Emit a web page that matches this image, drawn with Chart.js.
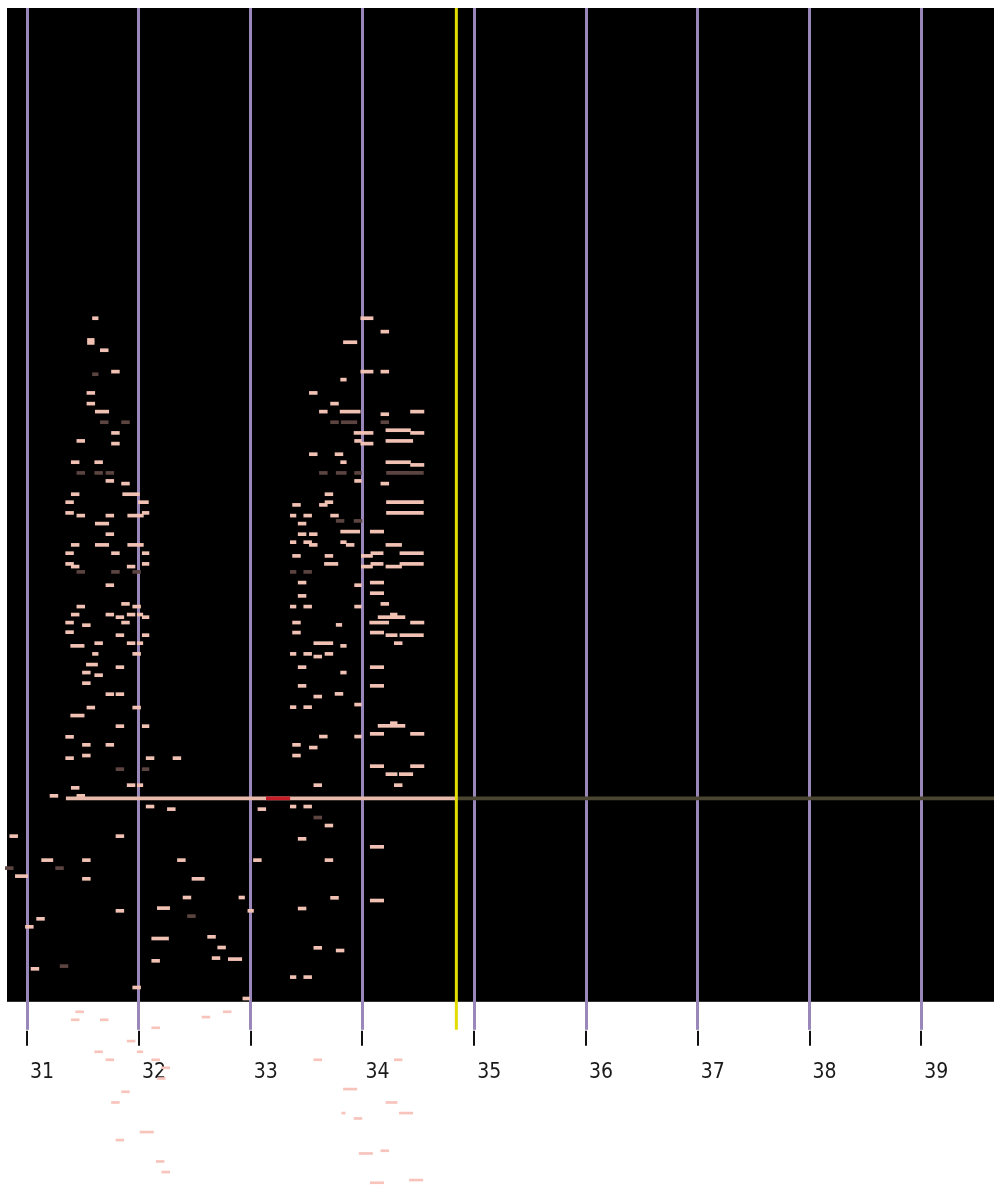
<!DOCTYPE html>
<html>
<head>
<meta charset="utf-8">
<script src="https://cdn.jsdelivr.net/npm/chart.js@4/dist/chart.umd.min.js"></script>
<style>
  html, body { margin: 0; padding: 0; background: #fff; }
  #wrap { width: 994px; height: 1185px; position: relative; }
</style>
</head>
<body>
<div id="wrap"><canvas id="roll"></canvas></div>
<script>
// axis range and tick labels
const xMin = 30.82;
const xMax = 39.65;
const yMin = 0;
const yMax = 99.4;
const tickValues = [31, 32, 33, 34, 35, 36, 37, 38, 39];

// playhead + baseline track
const cursorX = 34.84;
const cursorFoot = -2.8;
const baseY = 20.35;
const baseStart = 31.35;
const markStart = 33.14;
const markEnd = 33.35;

// notes: [center x, y, length]
const upperLeft = [
  [31.61,68.37,0.05],[31.57,66.2,0.06],[31.57,65.9,0.06],[31.69,65.17,0.07],
  [31.79,63.03,0.07],[31.57,60.9,0.07],[31.57,59.83,0.07],[31.67,59.03,0.12],
  [31.79,56.9,0.07],[31.48,56.1,0.07],[31.79,55.83,0.07],
  [31.43,53.97,0.07],[31.64,53.97,0.07],[31.74,52.1,0.07],[31.88,51.83,0.07],
  [31.43,50.77,0.07],[31.93,50.77,0.15],[31.38,49.97,0.07],[32.04,49.97,0.09],
  [31.38,48.9,0.07],[32.06,48.9,0.06],[31.48,48.63,0.07],[31.74,48.63,0.07],[31.97,48.63,0.14],
  [31.67,47.83,0.12],[31.74,46.77,0.07],[31.43,45.7,0.07],[31.67,45.7,0.12],[31.97,45.7,0.14],
  [31.38,44.87,0.07],[31.79,44.87,0.07],[32.06,44.87,0.06],
  [31.38,43.8,0.07],[31.43,43.53,0.07],[31.93,43.53,0.07],[32.06,43.8,0.06],
  [31.74,41.67,0.07],[31.88,39.8,0.07],[31.48,39.53,0.07],[31.98,39.53,0.07],
  [31.43,38.73,0.07],[31.74,38.73,0.07],[31.93,38.73,0.07],[32.01,38.73,0.05],
  [31.83,38.47,0.07],[32.06,38.47,0.06],[31.38,37.93,0.07],[31.88,37.93,0.07],
  [31.53,37.67,0.07],[31.38,36.97,0.07],[31.83,36.67,0.07],[32.06,36.67,0.06],
  [31.64,35.87,0.07],[31.93,35.87,0.07],[32.01,35.87,0.05],[31.45,35.6,0.12],
  [31.61,34.8,0.05],[31.98,34.8,0.07],[31.58,33.73,0.10],[31.83,33.47,0.07],
  [31.53,32.93,0.07],[31.64,32.67,0.07],[31.53,31.87,0.07],
  [31.74,30.77,0.07],[31.83,30.77,0.07],[31.57,29.43,0.07],[31.98,29.43,0.07],
  [31.45,28.63,0.12],[31.83,27.57,0.07],[32.06,27.57,0.06],[31.38,26.5,0.07],
  [31.53,25.7,0.07],[31.74,25.7,0.07],[31.53,24.63,0.07],
  [31.38,24.37,0.07],[32.10,24.37,0.07],[32.34,24.37,0.07],
  [31.93,21.67,0.07],[32.01,21.67,0.05],[31.43,21.4,0.07],
  [31.24,20.6,0.07],[31.48,20.6,0.07]
];

const upperRight = [
  [33.60,21.67,0.07],[34.32,21.67,0.07],
  [34.04,68.37,0.11],[34.20,67.03,0.07],[33.89,65.97,0.12],
  [34.04,63.03,0.11],[34.20,63.03,0.07],[33.83,62.23,0.05],
  [33.56,60.9,0.07],[33.75,59.83,0.07],
  [33.65,59.03,0.07],[33.89,59.03,0.18],[34.49,59.03,0.12],[34.20,58.77,0.07],
  [34.01,56.9,0.17],[34.32,57.17,0.22],[34.49,56.9,0.12],
  [33.96,56.1,0.06],[34.04,55.83,0.11],[34.33,56.1,0.24],
  [33.56,54.77,0.07],[33.79,54.77,0.07],
  [33.83,53.97,0.05],[34.32,53.97,0.22],[34.49,53.7,0.12],
  [33.96,52.1,0.06],[34.20,51.83,0.07],[33.70,50.77,0.07],
  [33.41,49.7,0.07],[33.65,49.7,0.07],[33.70,49.97,0.07],[34.38,49.97,0.33],
  [33.38,48.63,0.05],[33.51,48.63,0.07],[33.75,48.63,0.07],[34.38,48.9,0.33],
  [33.46,47.83,0.07],[33.89,47.03,0.17],[34.13,47.03,0.12],
  [33.46,46.77,0.07],[33.56,46.77,0.07],
  [33.38,45.97,0.05],[33.51,45.97,0.07],[33.56,45.7,0.07],[33.83,45.97,0.05],[33.89,45.7,0.07],[34.28,45.7,0.14],
  [33.41,44.6,0.07],[33.70,44.6,0.07],[34.04,44.6,0.10],[34.13,44.87,0.11],[34.44,44.87,0.21],
  [33.72,43.8,0.12],[34.04,43.53,0.10],[34.13,43.8,0.11],[34.28,43.53,0.14],[34.44,43.8,0.21],
  [33.46,41.93,0.07],[33.96,41.67,0.06],[34.13,41.93,0.12],
  [33.46,40.6,0.07],[34.13,40.87,0.12],[34.20,39.8,0.07],
  [33.38,39.53,0.05],[33.51,39.53,0.07],[33.96,39.53,0.06],
  [34.26,38.47,0.24],[34.28,38.73,0.06],
  [33.41,37.93,0.07],[34.15,37.93,0.17],[34.49,37.93,0.12],[33.79,37.7,0.05],
  [33.41,36.93,0.07],[34.13,36.93,0.12],[34.26,36.67,0.10],[34.44,36.67,0.21],
  [34.32,35.87,0.07],[33.65,35.87,0.17],[33.83,35.6,0.05],
  [33.38,34.8,0.05],[33.51,34.8,0.07],[33.70,34.8,0.07],[33.60,34.53,0.07],
  [33.46,33.47,0.07],[34.13,33.47,0.12],[33.83,32.93,0.05],
  [33.46,31.6,0.07],[34.13,31.6,0.12],[33.60,30.53,0.07],[33.79,30.8,0.07],
  [33.96,29.73,0.06],[33.38,29.47,0.05],[33.51,29.47,0.07],
  [34.26,27.6,0.24],[34.28,27.87,0.06],
  [34.13,26.8,0.12],[34.49,26.8,0.12],[33.65,26.53,0.07],[33.96,26.53,0.06],
  [33.41,25.7,0.07],[33.56,25.43,0.07],[33.41,24.63,0.07],
  [34.13,23.57,0.12],[34.49,23.57,0.12],[34.26,22.77,0.10],[34.39,22.77,0.12]
];

const lowerNotes = [
  [32.10,19.53,0.07],[32.29,19.27,0.07],[30.88,16.57,0.07],[31.83,16.57,0.07],
  [31.18,14.17,0.10],[31.53,14.17,0.07],[32.38,14.17,0.07],
  [30.95,12.57,0.11],[31.53,12.3,0.07],[32.53,12.3,0.11],
  [32.43,10.43,0.07],[32.92,10.43,0.05],
  [31.83,9.1,0.07],[32.22,9.37,0.11],[33.00,9.1,0.05],
  [31.12,8.3,0.07],[31.02,7.5,0.07],
  [32.19,6.33,0.15],[32.65,6.5,0.07],[32.74,5.43,0.07],
  [32.15,4.1,0.07],[32.69,4.37,0.07],[32.86,4.27,0.12],
  [31.07,3.3,0.07],[31.98,1.43,0.07],[32.96,0.33,0.06],
  [33.10,19.27,0.07],[33.38,19.53,0.05],[33.51,19.53,0.07],
  [33.70,17.63,0.07],[33.46,16.3,0.07],[34.13,15.5,0.12],
  [33.06,14.17,0.07],[33.70,14.17,0.07],
  [33.75,10.4,0.07],[34.13,10.13,0.12],[33.46,9.33,0.07],
  [33.60,5.4,0.07],[33.80,5.13,0.07],
  [33.38,2.47,0.05],[33.51,2.47,0.07]
];

const dimNotes = [
  [31.61,62.77,0.05],[31.69,57.97,0.07],[31.88,57.97,0.07],
  [31.48,52.9,0.07],[31.64,52.9,0.07],[31.74,52.9,0.07],
  [31.48,43.0,0.07],[31.79,43.0,0.07],[31.98,43.0,0.07],
  [31.83,23.27,0.07],[32.06,23.27,0.06],
  [30.84,13.37,0.07],[31.29,13.37,0.07],[32.47,8.57,0.07],[31.33,3.57,0.07],
  [33.60,18.43,0.07],
  [33.75,57.97,0.07],[33.88,57.97,0.14],[34.20,57.97,0.07],
  [33.65,52.9,0.07],[33.81,52.9,0.09],[33.96,52.9,0.06],[34.38,52.9,0.33],
  [33.80,48.1,0.07],[33.96,48.1,0.07],
  [33.38,43.0,0.05],[33.51,43.0,0.07]
];

// notes spilling below the plot
const spillNotes = [
  [31.47,-1.0,0.07],[31.43,-1.8,0.07],[31.69,-1.8,0.07],[32.15,-2.6,0.07],
  [31.93,-3.93,0.07],[31.64,-5.0,0.07],[32.01,-5.0,0.05],[31.74,-5.8,0.07],
  [32.15,-5.8,0.07],[32.24,-6.6,0.07],[32.20,-7.67,0.07],[31.88,-9.0,0.07],
  [31.79,-10.07,0.07],[32.07,-13.03,0.12],[31.83,-13.83,0.07],[32.19,-15.97,0.07],
  [32.24,-17.03,0.07],[32.60,-1.53,0.07],[32.79,-1.0,0.07],[33.60,-5.8,0.07],
  [34.32,-5.8,0.07],[33.89,-8.73,0.12],[34.26,-10.07,0.10],[33.83,-11.13,0.03],
  [34.39,-11.13,0.12],[33.96,-11.67,0.07],[34.03,-15.17,0.12],[34.20,-14.9,0.07],
  [34.13,-18.1,0.12],[34.48,-17.83,0.12]
];

function toBars(list) {
  return list.map(n => ({ x: [n[0] - n[2] / 2, n[0] + n[2] / 2], y: n[1] }));
}

function noteSet(label, list, color, thickness, order) {
  return {
    type: 'bar',
    label: label,
    data: toBars(list),
    backgroundColor: color,
    borderWidth: 0,
    barThickness: thickness,
    stack: 'roll',
    clip: false,
    order: order
  };
}

// black plot area
const plotBackground = {
  id: 'plotBackground',
  beforeDraw(chart) {
    const { ctx, chartArea } = chart;
    ctx.save();
    ctx.fillStyle = '#000';
    ctx.fillRect(chartArea.left, chartArea.top, chartArea.right - chartArea.left, chartArea.bottom - chartArea.top);
    ctx.restore();
  }
};

// short black tick marks under the grid extensions
const tickMarks = {
  id: 'tickMarks',
  afterDraw(chart) {
    const scale = chart.scales.x;
    const ctx = chart.ctx;
    const y0 = chart.chartArea.bottom + 29;
    ctx.save();
    ctx.strokeStyle = '#111';
    ctx.lineWidth = 2;
    scale.ticks.forEach(t => {
      const px = Math.round(scale.getPixelForValue(t.value));
      ctx.beginPath();
      ctx.moveTo(px, y0);
      ctx.lineTo(px, y0 + 15);
      ctx.stroke();
    });
    ctx.restore();
  }
};

const ctx = document.getElementById('roll').getContext('2d');
const rollChart = new Chart(ctx, {
  type: 'bar',
  data: {
    datasets: [
      {
        type: 'line',
        label: 'cursor',
        data: [{ x: cursorX, y: yMax }, { x: cursorX, y: cursorFoot }],
        borderColor: '#e2dc00',
        borderWidth: 3,
        pointRadius: 0,
        clip: false,
        order: 0
      },
      noteSet('mark', [[(markStart + markEnd) / 2, baseY, markEnd - markStart]], '#c81e2a', 3, 1),
      noteSet('track', [[(baseStart + cursorX) / 2, baseY, cursorX - baseStart]], '#e8baab', 3, 2),
      noteSet('trackRest', [[(cursorX + xMax) / 2, baseY, xMax - cursorX]], '#4a4530', 3, 2),
      noteSet('upperLeft', upperLeft, '#f1c2b3', 3, 3),
      noteSet('upperRight', upperRight, '#f1c2b3', 3, 3),
      noteSet('lower', lowerNotes, '#f1c2b3', 3, 3),
      noteSet('dim', dimNotes, '#5c4441', 3, 4),
      noteSet('spill', spillNotes, '#f7c3bb', 2, 4)
    ]
  },
  options: {
    indexAxis: 'y',
    responsive: true,
    maintainAspectRatio: false,
    animation: false,
    layout: { padding: { left: 7, top: 8, right: 0, bottom: 70 } },
    plugins: { legend: { display: false }, tooltip: { enabled: false } },
    scales: {
      x: {
        type: 'linear',
        min: xMin,
        max: xMax,
        stacked: false,
        offset: false,
        border: { display: false },
        grid: { color: '#9a87b9', lineWidth: 3, tickLength: 28, offset: false },
        afterBuildTicks: (scale) => { scale.ticks = tickValues.map(v => ({ value: v })); },
        afterFit: (scale) => { scale.paddingLeft = 0; scale.paddingRight = 0; },
        ticks: {
          autoSkip: false,
          maxRotation: 0,
          includeBounds: false,
          padding: 30,
          labelOffset: 15,
          color: '#1a1a1a',
          font: { family: "'DejaVu Sans Condensed', 'DejaVu Sans', sans-serif", size: 21 }
        }
      },
      y: {
        type: 'linear',
        min: yMin,
        max: yMax,
        offset: false,
        display: false,
        grid: { offset: false }
      }
    }
  },
  plugins: [plotBackground, tickMarks]
});
</script>
</body>
</html>
